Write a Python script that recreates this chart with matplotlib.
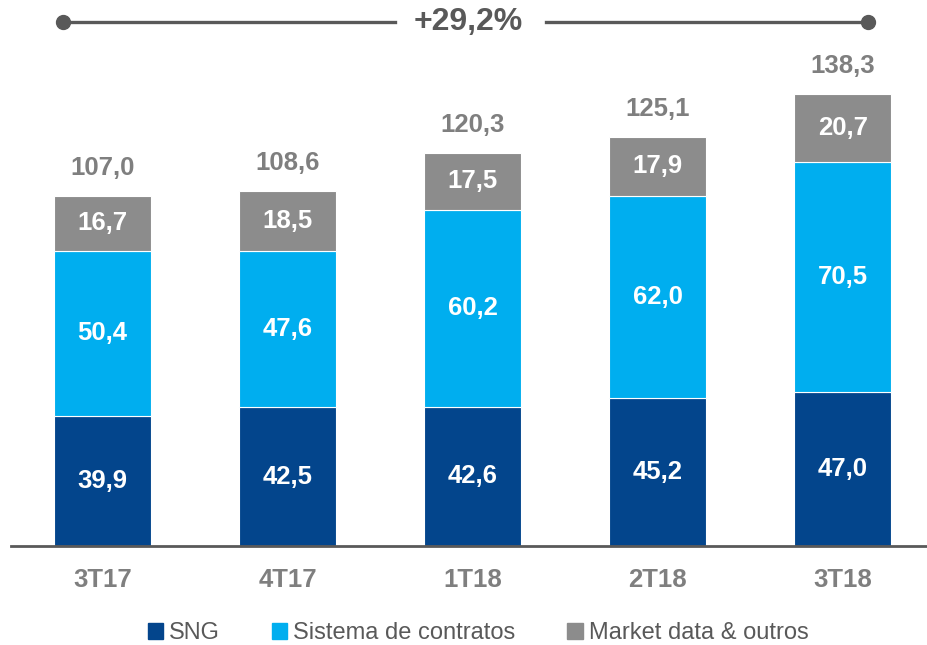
import matplotlib
matplotlib.use("Agg")
import matplotlib.pyplot as plt
from matplotlib.patches import Patch
from matplotlib.lines import Line2D

plt.rcParams['font.family'] = ['Liberation Sans', 'DejaVu Sans']

categories = ["3T17", "4T17", "1T18", "2T18", "3T18"]
sng = [39.9, 42.5, 42.6, 45.2, 47.0]
sistema = [50.4, 47.6, 60.2, 62.0, 70.5]
market = [16.7, 18.5, 17.5, 17.9, 20.7]
totals = [107.0, 108.6, 120.3, 125.1, 138.3]
growth_label = "+29,2%"
series_names = ["SNG", "Sistema de contratos", "Market data & outros"]

def fmt(v):
    return f"{v:.1f}".replace(".", ",")

c_sng = "#03458C"
c_sis = "#00AEEF"
c_mkt = "#8C8C8C"
gray_txt = "#7F7F7F"
dark = "#595959"

W, H = 928, 645
fig = plt.figure(figsize=(W/100, H/100), dpi=100)
ax = fig.add_axes([11/W, (H-546)/H, (928-11)/W, 546/H])

x = list(range(len(categories)))
bw = 0.525
ax.bar(x, sng, bw, color=c_sng, edgecolor='white', linewidth=0.8)
b2 = [s for s in sng]
ax.bar(x, sistema, bw, bottom=b2, color=c_sis, edgecolor='white', linewidth=0.8)
b3 = [s + t for s, t in zip(sng, sistema)]
ax.bar(x, market, bw, bottom=b3, color=c_mkt, edgecolor='white', linewidth=0.8)

for i in x:
    ax.text(i, sng[i]/2, fmt(sng[i]), ha='center', va='center', color='white',
            fontsize=18.5, fontweight='bold')
    ax.text(i, sng[i] + sistema[i]/2, fmt(sistema[i]), ha='center', va='center',
            color='white', fontsize=18.5, fontweight='bold')
    ax.text(i, b3[i] + market[i]/2, fmt(market[i]), ha='center', va='center',
            color='white', fontsize=18.5, fontweight='bold')
    ax.text(i, totals[i] + 4.8, fmt(totals[i]), ha='center', va='bottom',
            color=gray_txt, fontsize=18.5, fontweight='bold')

ax.set_xlim(-0.495, 4.46)
ax.set_ylim(0, 167)
for s in ['top', 'right', 'left']:
    ax.spines[s].set_visible(False)
ax.spines['bottom'].set_color(dark)
ax.spines['bottom'].set_linewidth(2)
ax.set_yticks([])
ax.set_xticks(x)
ax.set_xticklabels(categories, fontsize=18.5, fontweight='bold', color=gray_txt)
ax.tick_params(axis='x', length=0, pad=16)

# top growth line
yl = (H - 22) / H
fig.add_artist(Line2D([63/W, 395/W], [yl, yl], color=dark, lw=2.4, transform=fig.transFigure))
fig.add_artist(Line2D([546/W, 868/W], [yl, yl], color=dark, lw=2.4, transform=fig.transFigure))
fig.add_artist(Line2D([63/W, 868/W], [yl, yl], color=dark, lw=0, marker='o', markersize=10,
                      transform=fig.transFigure))
fig.text(468/W, yl, growth_label, ha='center', va='center', fontsize=23,
         fontweight='bold', color=dark)

handles = [Patch(color=c_sng), Patch(color=c_sis), Patch(color=c_mkt)]
fig.legend(handles, series_names, loc='center', bbox_to_anchor=(478/W, (H-633)/H),
           ncol=3, frameon=False, fontsize=17, labelcolor=dark,
           handlelength=0.65, handleheight=0.65, handletextpad=0.25, columnspacing=2.2)

fig.savefig("out.png", dpi=100)
